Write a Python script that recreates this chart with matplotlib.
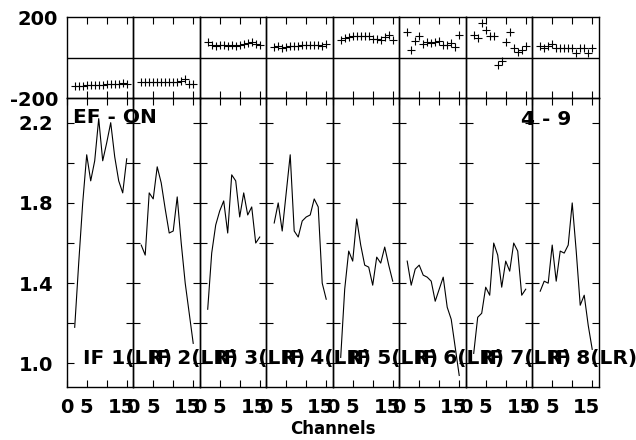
import matplotlib
matplotlib.use("Agg")
import matplotlib.pyplot as plt
import numpy as np
from matplotlib.transforms import ScaledTranslation

plt.rcParams["font.family"] = ["DejaVu Sans"]
plt.rcParams["font.weight"] = "bold"

# channels shown in every IF
channels = np.arange(2, 16)

# amplitude per IF
amp_if1 = [1.18, 1.50, 1.80, 2.04, 1.91, 2.01, 2.22, 2.01, 2.10, 2.20, 2.03, 1.91, 1.85, 2.02]
amp_if2 = [1.59, 1.54, 1.85, 1.82, 1.98, 1.90, 1.77, 1.65, 1.66, 1.83, 1.60, 1.40, 1.25, 1.10]
amp_if3 = [1.27, 1.55, 1.69, 1.76, 1.81, 1.65, 1.94, 1.91, 1.73, 1.85, 1.74, 1.78, 1.60, 1.63]
amp_if4 = [1.70, 1.80, 1.66, 1.85, 2.04, 1.66, 1.63, 1.71, 1.73, 1.74, 1.82, 1.78, 1.40, 1.32]
amp_if5 = [1.03, 1.37, 1.56, 1.51, 1.72, 1.59, 1.49, 1.48, 1.39, 1.53, 1.50, 1.58, 1.49, 1.41]
amp_if6 = [1.51, 1.39, 1.47, 1.49, 1.44, 1.43, 1.41, 1.31, 1.37, 1.43, 1.28, 1.22, 1.08, 0.94]
amp_if7 = [1.05, 1.23, 1.25, 1.38, 1.34, 1.60, 1.54, 1.38, 1.51, 1.46, 1.60, 1.56, 1.34, 1.37]
amp_if8 = [1.36, 1.41, 1.40, 1.59, 1.41, 1.56, 1.55, 1.59, 1.80, 1.56, 1.29, 1.34, 1.19, 1.07]

# phase per IF (degrees)
ph_if1 = [-143, -141, -140, -138, -137, -136, -135, -134, -133, -132, -131, -130, -126, -131]
ph_if2 = [-122, -121, -122, -120, -121, -120, -121, -122, -121, -121, -118, -108, -133, -130]
ph_if3 = [76, 64, 59, 63, 61, 59, 62, 56, 60, 66, 74, 76, 68, 64]
ph_if4 = [51, 58, 45, 54, 57, 58, 59, 62, 63, 62, 61, 60, 58, 66]
ph_if5 = [84, 97, 103, 104, 104, 104, 104, 104, 93, 90, 85, 103, 112, 88]
ph_if6 = [124, 38, 80, 104, 65, 77, 71, 77, 80, 62, 60, 71, 51, 112]
ph_if7 = [109, 97, 170, 137, 104, 104, -35, -18, 76, 125, 48, 26, 35, 59]
ph_if8 = [57, 45, 57, 66, 45, 45, 45, 45, 45, 22, 45, 45, 22, 48]

amps = [amp_if1, amp_if2, amp_if3, amp_if4, amp_if5, amp_if6, amp_if7, amp_if8]
phases = [ph_if1, ph_if2, ph_if3, ph_if4, ph_if5, ph_if6, ph_if7, ph_if8]
if_labels = ["IF %d(LR)" % (i + 1) for i in range(8)]

W, H = 636, 440
x0, pw = 66.7, 66.5
fs = 14
fs_txt = 14.5

fig = plt.figure(figsize=(W / 100, H / 100), dpi=100)

for i in range(8):
    left = (x0 + i * pw) / W
    axp = fig.add_axes([left, (H - 98) / H, pw / W, 81 / H])
    axa = fig.add_axes([left, (H - 386.7) / H, pw / W, 288.7 / H])
    for ax in (axp, axa):
        ax.patch.set_visible(False)
        ax.set_xlim(0, 16.62)
        for s in ax.spines.values():
            s.set_linewidth(1.0)

    # phase panel
    axp.plot(channels, phases[i], "+", color="black", ms=5.5, mew=0.8)
    axp.axhline(0, color="black", lw=1.0)
    axp.set_ylim(-200, 200)
    axp.set_xticks([5, 10, 15])
    axp.tick_params(axis="x", direction="in", top=True, bottom=True,
                    length=5, labelbottom=False)
    if i == 0:
        axp.set_yticks([-200, 200], ["-200", "200"])
        axp.tick_params(axis="y", length=0, pad=6, labelsize=fs)
    else:
        axp.set_yticks([])

    # amplitude panel
    axa.plot(channels, amps[i], color="black", lw=0.8)
    axa.set_ylim(0.884, 2.323)
    axa.set_xticks([0, 5, 10, 15], ["0", "5", "", "15"])
    axa.set_yticks(np.arange(1.0, 2.21, 0.2))
    axa.tick_params(axis="x", direction="in", top=True, bottom=True,
                    length=5, pad=8, labelsize=fs)
    axa.tick_params(axis="y", direction="in", left=True, right=True,
                    length=5, pad=9.5, labelsize=fs)
    if i == 0:
        axa.set_yticklabels(["1.0", "", "1.4", "", "1.8", "", "2.2"])
    else:
        axa.set_yticklabels([])
    lbl = axa.get_xticklabels()[3]
    lbl.set_transform(lbl.get_transform()
                      + ScaledTranslation(-0.055, 0, fig.dpi_scale_trans))

    axa.text(0.24, 0.096, if_labels[i], transform=axa.transAxes,
             fontsize=fs_txt, va="center", ha="left")

    if i == 0:
        axa.text(0.099, 0.931, "EF - ON", transform=axa.transAxes,
                 fontsize=fs_txt, va="center", ha="left")

fig.text(571.3 / W, (H - 119.7) / H, "4 - 9", fontsize=fs_txt, ha="right", va="center")
fig.text((x0 + 4 * pw) / W, (H - 429) / H, "Channels", fontsize=12,
         ha="center", va="center")

fig.savefig("out.png", dpi=100)
